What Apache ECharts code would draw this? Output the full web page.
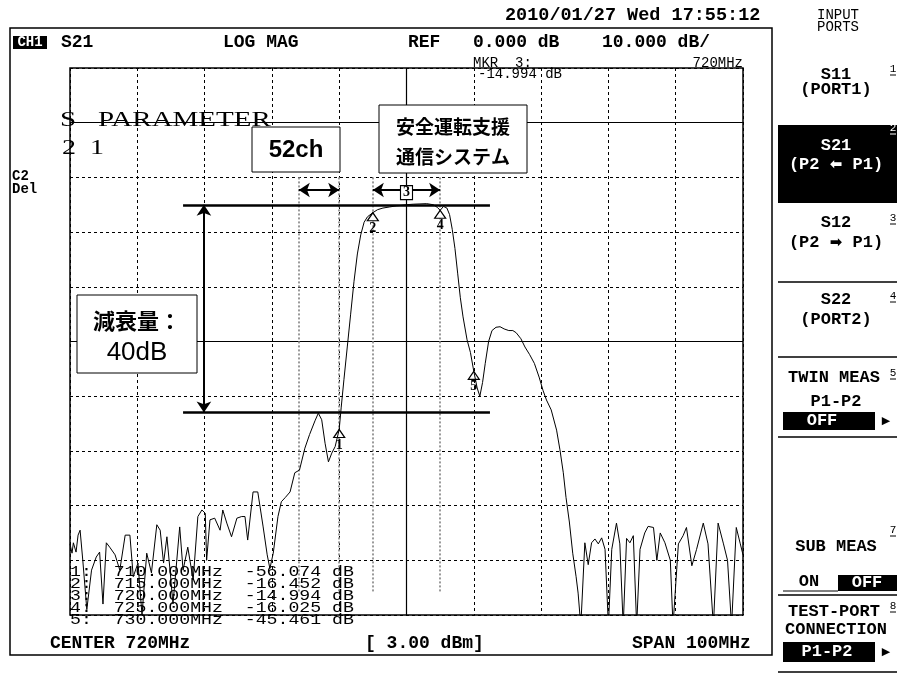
<!DOCTYPE html>
<html>
<head>
<meta charset="utf-8">
<script src="https://cdn.jsdelivr.net/npm/echarts@6/dist/echarts.min.js"></script>
<style>
  html, body { margin: 0; padding: 0; background: #fff; }
  #main { width: 897px; height: 675px; }
</style>
</head>
<body>
<div id="main"></div>
<script>
// 周波数 (MHz)
const traceMHz = [
  670.0, 670.3, 670.5, 670.9, 671.2, 671.5, 671.9, 672.5, 673.2, 673.9, 674.4, 674.9, 675.4, 675.9,
  676.7, 677.4, 678.2, 678.9, 679.4, 680.1, 680.7, 681.4, 682.1, 682.9, 683.4, 683.9, 684.4, 684.9,
  685.3, 686.3, 686.8, 687.5, 688.3, 689.0, 689.6, 690.1, 690.3, 690.8, 691.5, 692.3, 692.7, 693.3,
  694.0, 694.8, 695.5, 696.0, 696.4, 697.2, 697.9, 698.7, 699.3, 699.7, 700.2, 700.9, 701.4, 702.0,
  702.7, 703.4, 704.1, 704.9, 705.6, 706.4, 706.9, 707.4, 707.9, 708.4, 708.9, 709.4, 710.0, 710.3,
  710.7, 711.2, 711.7, 712.2, 712.7, 713.2, 713.7, 714.2, 715.0, 715.7, 716.5, 717.5, 718.5, 719.3,
  720.0, 721.0, 722.0, 723.0, 724.0, 724.6, 725.0, 725.5, 726.0, 726.4, 726.8, 727.2, 727.6, 728.0,
  728.4, 729.0, 729.5, 730.0, 730.5, 730.9, 731.3, 731.7, 732.2, 732.7, 733.3, 733.9, 734.5, 735.2,
  735.8, 736.3, 737.0, 737.6, 738.3, 739.0, 739.7, 740.3, 740.8, 741.5, 742.3, 742.8, 743.3, 743.7,
  744.2, 744.7, 745.2, 745.5, 745.9, 746.5, 747.0, 747.5, 748.0, 748.5, 749.0, 749.5, 750.0, 750.5,
  751.2, 751.7, 752.2, 752.7, 753.2, 753.7, 754.2, 754.7, 755.4, 755.9, 756.7, 757.2, 757.7, 758.4,
  759.2, 759.6, 760.4, 761.1, 761.6, 762.4, 763.1, 764.1, 764.8, 765.6, 766.3, 767.1, 767.7, 768.3,
  769.0, 769.6, 770.0
];
// S21 (dB)
const traceDb = [
  -77, -78.7, -76.8, -78.5, -75.4, -74.5, -80, -89, -81.8, -79.4, -78.5, -88, -76.8, -77.6,
  -79, -81.8, -75.4, -75.4, -83, -80.5, -90, -78.7, -82.3, -73.5, -74.5, -80.5, -75.7, -82.3,
  -88, -73.9, -81.8, -77.6, -83.6, -72, -70.8, -71.4, -80, -72.6, -72.3, -74.5, -70.8, -73.2,
  -75.7, -72.3, -72, -72, -76.3, -67.5, -67.5, -73.9, -79, -81.5, -78.7, -72, -69.3, -68.5,
  -67.5, -64, -63.5, -59.5, -57, -54.5, -53.1, -54.3, -58.6, -62, -60.4, -59.2, -56.074, -52,
  -47, -41, -35, -29, -24, -20.5, -18.2, -17.2, -16.452, -15.9, -15.6, -15.4, -15.2, -15.1,
  -14.994, -14.9, -14.85, -14.8, -15.0, -15.5, -16.025, -15.3, -15.6, -16.8, -19.5, -23, -27.5, -32,
  -35.5, -39.7, -42, -45.461, -48.5, -50, -47.5, -44, -40, -38, -37.4, -37.3, -37.7, -38,
  -38, -38.4, -39.5, -41, -42.4, -44, -46.5, -49, -50.7, -52.5, -56.2, -59.8, -64, -68.5,
  -73, -78.7, -83, -86, -92, -76.8, -80.8, -76.8, -76.1, -77, -75.9, -78, -92, -78,
  -73.2, -77, -92, -76, -76.8, -75.5, -92, -78, -75, -73.8, -74, -80, -75, -76.8,
  -80, -92, -77, -75.5, -74, -81, -78, -73.2, -77, -92, -73.2, -77, -80, -92,
  -74, -77, -79
];

// マーカー
const markerMHz = [710, 715, 720, 725, 730];
const markerDb = [-56.074, -16.452, -14.994, -16.025, -45.461];
const activeMarker = 3;

// 帯域 (52ch / 安全運転支援通信システム)
const chBand = [704, 710];
const itsBand = [715, 725];
const bandLineDb = [-10, -86];
const bandArrowDb = -12.3;

// 減衰量の基準線
const levelDb = [-15, -53];
const levelSpan = [686.8, 732.4];
const attenArrowMHz = 689.9;

// 軸
const freqAxis = [670, 770, 10];
const dbAxis = [-90, 10, 10];

// フォント
const headFont = 'bold 18px "Liberation Mono", "DejaVu Sans Mono", monospace';
const keyFont = 'bold 17px "Liberation Mono", "DejaVu Sans Mono", monospace';
const thinFont = '14px "Liberation Mono", "DejaVu Sans Mono", monospace';
const supFont = '11px "Liberation Mono", monospace';
const jpFont = '"Noto Sans CJK JP", sans-serif';

// graphic 要素ヘルパ
function txt(x, y, text, font, align, fill, extra) {
  return Object.assign({
    type: 'text', x: x, y: y, z: 100,
    style: { text: text, font: font, fill: fill || '#000', align: align || 'left', verticalAlign: 'middle' }
  }, extra || {});
}
function box(x, y, w, h, fill, stroke, z) {
  return {
    type: 'rect', z: z || 90,
    shape: { x: x, y: y, width: w, height: h },
    style: { fill: fill, stroke: stroke || null, lineWidth: 1 }
  };
}
function hline(x1, x2, y, w) {
  return {
    type: 'line', z: 100,
    shape: { x1: x1, y1: y, x2: x2, y2: y },
    style: { stroke: '#000', lineWidth: w || 1.5 }
  };
}
function sup(x, y, n, fill) {
  return [
    txt(x, y, n, supFont, 'center', fill || '#000'),
    { type: 'line', z: 100, shape: { x1: x - 3, y1: y + 6, x2: x + 3, y2: y + 6 },
      style: { stroke: fill || '#000', lineWidth: 1 } }
  ];
}
// 矢印入りのポート表記
function portKey(y, arrow, fill) {
  return {
    type: 'text', x: 836, y: y, z: 100,
    style: {
      text: '{a|(P2 }{b|' + arrow + '}{a| P1)}',
      align: 'center', verticalAlign: 'middle',
      rich: {
        a: { font: keyFont, fill: fill },
        b: { font: 'bold 15px "DejaVu Sans", sans-serif', fill: fill }
      }
    }
  };
}

let g = [];
// 外枠
g.push({ type: 'rect', z: 1, shape: { x: 10, y: 28, width: 762, height: 627 },
  style: { fill: 'none', stroke: '#000', lineWidth: 1.5 } });

// ヘッダ
g.push(txt(505, 15, '2010/01/27 Wed 17:55:12', 'bold 18.5px "Liberation Mono", monospace'));
g.push(box(13, 36, 34, 13, '#000', null, 95));
g.push(txt(30, 42.5, 'CH1', 'bold 14px "Liberation Mono", monospace', 'center', '#fff'));
g.push(txt(61, 42, 'S21', headFont));
g.push(txt(223, 42, 'LOG MAG', headFont));
g.push(txt(408, 42, 'REF', headFont));
g.push(txt(473, 42, '0.000 dB', headFont));
g.push(txt(602, 42, '10.000 dB/', headFont));
g.push(txt(473, 63, 'MKR  ' + activeMarker + ':', thinFont));
g.push(txt(743, 63, markerMHz[activeMarker - 1] + 'MHz', thinFont, 'right'));
g.push(txt(478, 74, markerDb[activeMarker - 1].toFixed(3) + ' dB', thinFont));
g.push(txt(12, 176, 'C2', 'bold 14px "Liberation Mono", monospace'));
g.push(txt(12, 189, 'Del', 'bold 14px "Liberation Mono", monospace'));

// S PARAMETER 注記
g.push(txt(60, 121, 'S   PARAMETER', '20px "Liberation Serif", serif', 'left', '#000', { scaleX: 1.45, z: 60 }));
g.push(txt(62, 149, '2  1', '20px "Liberation Serif", serif', 'left', '#000', { scaleX: 1.4, z: 60 }));

// 注記ボックス
g.push(box(252, 127, 88, 45, '#fff', '#000'));
g.push(txt(296, 150, '52ch', 'bold 24px "Liberation Sans", sans-serif', 'center'));
g.push(box(379, 105, 148, 68, '#fff', '#000'));
g.push(txt(453, 127, '安全運転支援', 'bold 19px ' + jpFont, 'center'));
g.push(txt(453, 157, '通信システム', 'bold 19px ' + jpFont, 'center'));
g.push(box(77, 295, 120, 78, '#fff', '#000'));
g.push(txt(137, 321, '減衰量：', 'bold 22px ' + jpFont, 'center'));
g.push(txt(137, 353, '40dB', '26px "Liberation Sans", sans-serif', 'center'));

// マーカー一覧
markerMHz.forEach(function (f, i) {
  let row = (i + 1) + ':  ' + f.toFixed(3) + 'MHz  ' + markerDb[i].toFixed(3) + ' dB';
  g.push(txt(70, 572 + i * 12, row, thinFont, 'left', '#000', { scaleX: 1.3 }));
});

// フッタ
g.push(txt(50, 643, 'CENTER 720MHz', headFont));
g.push(txt(365, 643, '[ 3.00 dBm]', headFont));
g.push(txt(632, 643, 'SPAN 100MHz', headFont));

// 右側ソフトキー
g.push(txt(838, 15, 'INPUT', thinFont, 'center'));
g.push(txt(838, 27, 'PORTS', thinFont, 'center'));
g.push(txt(836, 75, 'S11', keyFont, 'center'));
g.push(txt(836, 90, '(PORT1)', keyFont, 'center'));
g = g.concat(sup(893, 69, '1'));
g.push(box(778, 125, 119, 78, '#000', null, 95));
g.push(txt(836, 146, 'S21', keyFont, 'center', '#fff'));
g.push(portKey(165, '⬅', '#fff'));
g = g.concat(sup(893, 128, '2', '#fff'));
g.push(txt(836, 223, 'S12', keyFont, 'center'));
g.push(portKey(243, '➡', '#000'));
g = g.concat(sup(893, 218, '3'));
g.push(hline(778, 897, 282));
g.push(txt(836, 300, 'S22', keyFont, 'center'));
g.push(txt(836, 320, '(PORT2)', keyFont, 'center'));
g = g.concat(sup(893, 296, '4'));
g.push(hline(778, 897, 357));
g.push(txt(834, 378, 'TWIN MEAS', keyFont, 'center'));
g = g.concat(sup(893, 373, '5'));
g.push(txt(836, 402, 'P1-P2', keyFont, 'center'));
g.push(box(783, 412, 92, 18, '#000', null, 95));
g.push(txt(822, 421, 'OFF', keyFont, 'center', '#fff'));
g.push(txt(886, 421, '▶', '11px "DejaVu Sans", sans-serif', 'center'));
g.push(hline(778, 897, 437));
g = g.concat(sup(893, 530, '7'));
g.push(txt(836, 547, 'SUB MEAS', keyFont, 'center'));
g.push(txt(809, 582, 'ON', keyFont, 'center'));
g.push(box(838, 575, 59, 16, '#000', null, 95));
g.push(txt(867, 583, 'OFF', keyFont, 'center', '#fff'));
g.push(hline(783, 838, 591, 1));
g.push(hline(778, 897, 595));
g.push(txt(834, 612, 'TEST-PORT', keyFont, 'center'));
g = g.concat(sup(893, 606, '8'));
g.push(txt(836, 630, 'CONNECTION', keyFont, 'center'));
g.push(box(783, 642, 92, 20, '#000', null, 95));
g.push(txt(827, 652, 'P1-P2', keyFont, 'center', '#fff'));
g.push(txt(886, 652, '▶', '11px "DejaVu Sans", sans-serif', 'center'));
g.push(hline(778, 897, 672));

// マーカー記号
const markPoints = markerMHz.map(function (f, i) {
  if (i + 1 === activeMarker) {
    return {
      name: String(i + 1), coord: [f, markerDb[i]],
      symbol: 'rect', symbolSize: [12, 14], symbolOffset: [0, -12],
      itemStyle: { color: '#fff', borderColor: '#000', borderWidth: 1.2 },
      label: { position: 'inside', offset: [0, 0] }
    };
  }
  return {
    name: String(i + 1), coord: [f, markerDb[i]],
    symbol: 'triangle', symbolSize: [11, 8], symbolOffset: [0, 4],
    itemStyle: { color: '#fff', borderColor: '#000', borderWidth: 1.2 },
    label: { position: 'bottom', distance: 0 }
  };
});

const dotted = { type: [3, 3], color: '#000', width: 1 };

const option = {
  backgroundColor: '#fff',
  animation: false,
  grid: { left: 70, right: 154, top: 68, bottom: 60, show: true, borderColor: '#000', borderWidth: 1.5 },
  xAxis: {
    type: 'value', min: freqAxis[0], max: freqAxis[1], interval: freqAxis[2],
    axisLine: { show: false }, axisTick: { show: false }, axisLabel: { show: false },
    splitLine: { show: true, lineStyle: dotted }
  },
  yAxis: {
    type: 'value', min: dbAxis[0], max: dbAxis[1], interval: dbAxis[2],
    axisLine: { show: false }, axisTick: { show: false }, axisLabel: { show: false },
    splitLine: { show: true, lineStyle: dotted }
  },
  graphic: { elements: g },
  series: [
    {
      // 基準線 (中心周波数 / REF / 中心レベル)
      type: 'line', data: [], z: 2, silent: true,
      markLine: {
        silent: true, symbol: 'none', label: { show: false },
        lineStyle: { type: 'solid', color: '#000', width: 1.2 },
        data: [{ xAxis: 720 }, { yAxis: 0 }, { yAxis: -40 }]
      }
    },
    {
      // 帯域境界 (グレー点線)
      type: 'line', data: [], z: 3, silent: true,
      markLine: {
        silent: true, symbol: 'none', label: { show: false },
        lineStyle: { type: [2, 2], color: '#9a9a9a', width: 2 },
        data: chBand.concat(itsBand).map(function (f) {
          return [{ coord: [f, bandLineDb[0]] }, { coord: [f, bandLineDb[1]] }];
        })
      }
    },
    {
      // 減衰量の水平線
      type: 'line', data: [], z: 6, silent: true,
      markLine: {
        silent: true, label: { show: false },
        symbol: 'none',
        lineStyle: { type: 'solid', color: '#000', width: 2.5 },
        data: levelDb.map(function (d) {
          return [{ coord: [levelSpan[0], d] }, { coord: [levelSpan[1], d] }];
        })
      }
    },
    {
      // 両矢印
      type: 'line', data: [], z: 6, silent: true,
      markLine: {
        silent: true, label: { show: false },
        symbol: ['arrow', 'arrow'], symbolSize: 11,
        lineStyle: { type: 'solid', color: '#000', width: 2 },
        data: [
          [{ coord: [attenArrowMHz, levelDb[0]] }, { coord: [attenArrowMHz, levelDb[1]] }],
          [{ coord: [chBand[0], bandArrowDb] }, { coord: [chBand[1], bandArrowDb] }],
          [{ coord: [itsBand[0], bandArrowDb] }, { coord: [itsBand[1], bandArrowDb] }]
        ]
      }
    },
    {
      name: 'S21', type: 'line', z: 5,
      data: traceMHz.map(function (f, i) { return [f, traceDb[i]]; }),
      symbol: 'none', clip: true,
      lineStyle: { color: '#000', width: 1 },
      markPoint: {
        silent: true,
        label: {
          show: true, color: '#000', fontFamily: '"Liberation Serif", serif', fontSize: 14, fontWeight: 'bold',
          formatter: function (p) { return p.name; }
        },
        data: markPoints
      }
    }
  ]
};

const chart = echarts.init(document.getElementById('main'));
chart.setOption(option);
</script>
</body>
</html>
